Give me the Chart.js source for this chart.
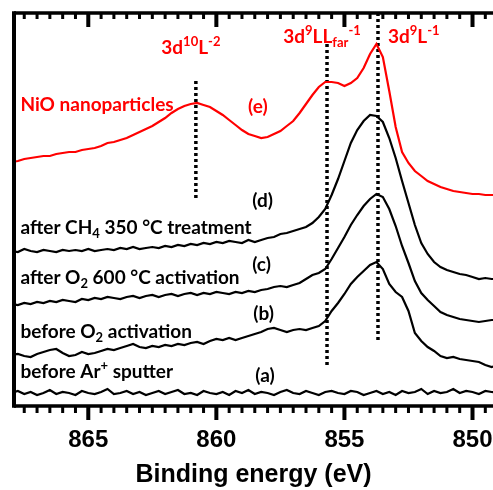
<!DOCTYPE html>
<html>
<head>
<meta charset="utf-8">
<script src="https://cdn.jsdelivr.net/npm/chart.js@4.4.1/dist/chart.umd.min.js"></script>
<style>
  html, body { margin: 0; padding: 0; background: #fff; }
</style>
</head>
<body>
<canvas id="xpsChart" width="493" height="490"></canvas>
<script>
// Energy grid (eV), 0.25 eV steps from 868 down to 849
const eStart = 868;
const eStep = 0.25;
const energy = Array.from({ length: 77 }, (_, i) => eStart - eStep * i);

// Spectra (offset, arbitrary units)
const nioNano = [244,245,247,248,249,250,250,252,253,254,254,256,257,258,260,263,264,266,268,271,
  274,277,280,284,288,293,297,300,302,303,301,299,295,291,286,281,276,272,270,268,
  269,272,275,280,285,293,302,311,319,324,324,323,320,323,328,338,352,362,349,315,
  279,254,243,235,230,225,222,219,217,215,214,213,212,212,211,211,211];
const afterCH4 = [155,154,157,155,154,156,155,154,156,155,156,155,157,155,156,157,156,158,157,159,
  157,158,159,158,160,159,161,160,162,161,163,162,164,163,165,164,163,166,164,166,
  168,169,172,173,175,177,179,183,189,197,211,227,245,263,276,285,291,290,284,268,
  248,225,203,181,163,152,144,139,136,134,132,131,129,127,128,127,127];
const afterO2 = [102,101,103,102,104,103,105,104,106,105,104,107,106,108,107,109,108,107,109,110,
  108,110,111,109,111,112,110,112,113,111,113,112,114,113,112,114,113,115,114,116,
  117,119,120,119,121,123,127,131,133,137,147,158,169,181,191,200,207,212,209,197,
  180,160,143,125,113,106,100,94,91,89,87,86,85,84,85,86,86];
const beforeO2 = [51,52,50,49,52,54,56,57,53,50,51,54,52,53,55,57,56,58,60,62,
  59,58,60,59,61,60,62,61,63,64,62,65,67,66,68,66,68,70,72,74,
  77,78,76,74,76,77,76,78,80,85,95,103,112,122,129,135,141,144,137,122,
  114,109,95,73,65,59,55,50,48,49,47,46,45,44,41,39,41];
const beforeAr = [13,15,12,14,11,13,16,12,14,13,11,15,13,12,14,17,12,13,15,12,
  14,11,13,15,12,14,16,12,13,11,15,13,12,14,11,15,13,16,12,14,
  13,11,14,16,13,12,15,13,11,14,15,13,12,15,14,11,13,15,12,14,
  11,15,13,14,17,12,15,13,14,17,13,15,14,12,15,14,13];

// Dotted markers: energy, top, bottom
const markerE = [860.8, 855.68, 853.69];
const markerTop = [325, 362, 393];
const markerBottom = [205, 38, 65];

const tickValues = [865, 860, 855, 850];

const RED = "#ff0000";
const LABEL_FONT = "Lato";
const AXIS_FONT = "'Liberation Sans', Arial, sans-serif";

// Text labels anchored in data coordinates (energy, intensity at baseline)
const labels = [
  { e: 867.65, v: 295, color: RED, parts: [{ t: "NiO nanoparticles" }] },
  { e: 858.76, v: 293, color: RED, parts: [{ t: "(e)" }] },
  { e: 862.15, v: 352, color: RED, parts: [{ t: "3d" }, { t: "10", sup: true }, { t: "L" }, { t: "-2", sup: true }] },
  { e: 857.39, v: 363, color: RED, parts: [{ t: "3d" }, { t: "9", sup: true }, { t: "LL" }, { t: "far", sub: true }, { t: "-1", sup: true }] },
  { e: 853.30, v: 363, color: RED, parts: [{ t: "3d" }, { t: "9", sup: true }, { t: "L" }, { t: "-1", sup: true }] },
  { e: 867.65, v: 172, color: "#000", parts: [{ t: "after CH" }, { t: "4", sub: true }, { t: " 350 °C treatment" }] },
  { e: 867.65, v: 122, color: "#000", parts: [{ t: "after O" }, { t: "2", sub: true }, { t: " 600 °C activation" }] },
  { e: 867.65, v: 68, color: "#000", parts: [{ t: "before O" }, { t: "2", sub: true }, { t: " activation" }] },
  { e: 867.65, v: 28, color: "#000", parts: [{ t: "before Ar" }, { t: "+", sup: true }, { t: " sputter" }] },
  { e: 858.60, v: 199, color: "#000", parts: [{ t: "(d)" }] },
  { e: 858.60, v: 135, color: "#000", parts: [{ t: "(c)" }] },
  { e: 858.56, v: 86, color: "#000", parts: [{ t: "(b)" }] },
  { e: 858.48, v: 24, color: "#000", parts: [{ t: "(a)" }] },
];

function series(values) {
  return values.map((v, i) => ({ x: energy[i], y: v }));
}

function spectrum(values, color) {
  return {
    data: series(values),
    borderColor: color,
    borderWidth: 2.2,
    pointRadius: 0,
    tension: 0,
    fill: false,
  };
}

const markerSets = markerE.map((e, i) => ({
  data: [{ x: e, y: markerTop[i] }, { x: e, y: markerBottom[i] }],
  borderColor: "#000",
  borderWidth: 3.5,
  borderDash: [3, 3],
  pointRadius: 0,
  fill: false,
}));

// Frame with inward top ticks and outward bottom ticks, plus rich text labels
const framePlugin = {
  id: "frame",
  afterDraw(chart) {
    const { ctx, chartArea: a, scales } = chart;
    const xs = scales.x, ys = scales.y;
    ctx.save();
    ctx.strokeStyle = "#000";
    ctx.lineCap = "butt";
    ctx.lineWidth = 3.5;
    ctx.beginPath();
    ctx.moveTo(a.left, a.top); ctx.lineTo(a.right, a.top);
    ctx.moveTo(a.left, a.bottom); ctx.lineTo(a.right, a.bottom);
    ctx.stroke();
    ctx.lineWidth = 4;
    ctx.beginPath();
    ctx.moveTo(a.left, a.top - 1.75); ctx.lineTo(a.left, a.bottom + 1.75);
    ctx.stroke();
    for (let e = 849.5; e <= 867.5; e += 0.5) {
      const px = xs.getPixelForValue(e);
      const major = e % 5 === 0;
      ctx.lineWidth = major ? 4 : 3;
      ctx.beginPath();
      ctx.moveTo(px, a.top); ctx.lineTo(px, a.top + (major ? 14 : 6));
      ctx.moveTo(px, a.bottom); ctx.lineTo(px, a.bottom + (major ? 14 : 7));
      ctx.stroke();
    }
    // labels
    const size = 19;
    ctx.textBaseline = "alphabetic";
    ctx.textAlign = "left";
    labels.forEach(l => {
      let cx = xs.getPixelForValue(l.e);
      const y = ys.getPixelForValue(l.v);
      ctx.fillStyle = l.color;
      l.parts.forEach(p => {
        const small = p.sup || p.sub;
        const s = small ? Math.round(size * 0.68) : size;
        ctx.font = `bold ${s}px ${LABEL_FONT}`;
        const dy = p.sup ? -size * 0.4 : p.sub ? size * 0.22 : 0;
        ctx.fillText(p.t, cx, y + dy);
        cx += ctx.measureText(p.t).width;
      });
    });
    ctx.restore();
  },
};

document.addEventListener("DOMContentLoaded", () => {
  const ctx = document.getElementById("xpsChart").getContext("2d");
  new Chart(ctx, {
    type: "line",
    data: {
      datasets: [
        spectrum(beforeAr, "#000"),
        spectrum(beforeO2, "#000"),
        spectrum(afterO2, "#000"),
        spectrum(afterCH4, "#000"),
        spectrum(nioNano, RED),
        ...markerSets,
      ],
    },
    options: {
      responsive: false,
      animation: false,
      layout: { autoPadding: false, padding: { left: 14, top: 13, right: 0, bottom: 0 } },
      plugins: {
        legend: { display: false },
        tooltip: { enabled: false },
      },
      scales: {
        x: {
          type: "linear",
          reverse: true,
          min: 849.2,
          max: 867.9,
          afterBuildTicks: s => { s.ticks = tickValues.map(v => ({ value: v })); },
          afterFit: s => { s.height = 84; s.paddingLeft = 0; s.paddingRight = 0; },
          grid: { display: false, drawTicks: false },
          border: { display: false },
          ticks: {
            padding: 20,
            color: "#000",
            maxRotation: 0,
            autoSkip: false,
            font: { family: AXIS_FONT, size: 24, weight: "bold" },
          },
          title: {
            display: true,
            text: "Binding energy (eV)",
            color: "#000",
            padding: { top: 0, bottom: 0 },
            font: { family: AXIS_FONT, size: 25, weight: "bold" },
          },
        },
        y: { display: false, min: 0, max: 393 },
      },
    },
    plugins: [framePlugin],
  });
});
</script>
</body>
</html>
